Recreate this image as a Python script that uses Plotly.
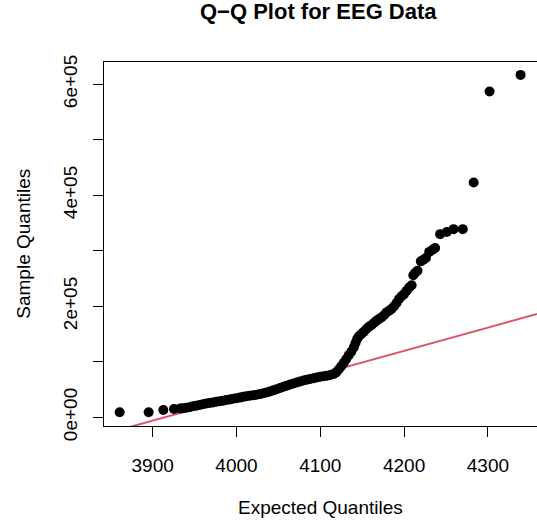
import plotly.graph_objects as go

# Expected (theoretical) quantiles and sample quantiles
expected_q = [
    3860.6, 3895.2, 3912.7, 3925.4, 3933,
    3936, 3940, 3944, 3948, 3952, 3956, 3960, 3964, 3968, 3972, 3976, 3980,
    3984, 3988, 3992, 3996, 4000, 4004, 4008, 4012, 4016, 4020, 4024, 4028,
    4032, 4036, 4040, 4044, 4048, 4052, 4056, 4060, 4064, 4068, 4072, 4076,
    4080, 4084, 4088, 4092, 4096, 4100, 4104, 4108, 4112, 4116,
    4119, 4122, 4125, 4128, 4131, 4134, 4137, 4140, 4142, 4144, 4146, 4149,
    4152, 4155, 4158, 4161, 4164, 4167, 4170, 4173, 4176, 4179, 4182, 4185,
    4188, 4191, 4194, 4197, 4200, 4203, 4206, 4209, 4211, 4213, 4216, 4220,
    4223, 4226, 4230, 4234, 4237, 4243, 4251, 4259, 4270, 4283, 4302, 4339,
]
sample_q = [
    9000, 9000, 13000, 15000, 16000,
    16500, 17300, 18200, 19800, 21000, 22000, 23500, 24800, 25800, 26800, 27900, 29000,
    30000, 31000, 32200, 33300, 34500, 35500, 36800, 38000, 38800, 39600, 40600, 41800,
    43200, 44800, 46500, 48500, 50500, 52800, 55000, 57000, 59000, 61000, 62800, 64500,
    66200, 67800, 69200, 70500, 71800, 73000, 74000, 75000, 76200, 78000,
    81000, 86000, 92000, 98000, 105000, 112000, 118000, 126000, 134000, 141000, 146000, 150000,
    154000, 159000, 163000, 166000, 170000, 174000, 177000, 180000, 184000, 189000, 192000, 195000,
    200000, 206000, 213000, 218000, 222000, 228000, 234000, 238000, 256000, 260000, 264000, 281000,
    284000, 287000, 298000, 302000, 305000, 330000, 334000, 339000, 339000, 423000, 587000, 617000,
]

# Reference line (qqline): y = intercept + slope * x
line_intercept = -1639300
line_slope = 418.8

x_ticks = [3900, 4000, 4100, 4200, 4300]
y_ticks = [0, 100000, 200000, 300000, 400000, 500000, 600000]
y_tick_labels = ["0e+00", "", "2e+05", "", "4e+05", "", "6e+05"]

x_range = [3841.9, 4358.6]
y_range = [-15700, 640200]

FONT = "Liberation Sans, Arial, Helvetica, sans-serif"

W, H = 537, 520
ML, MR, MT, MB = 104, 0, 62, 94
PW, PH = W - ML - MR, H - MT - MB


def px_to_paper(px, py):
    """pixel position (from top-left) -> paper coordinates"""
    return (px - ML) / PW, ((H - py) - MB) / PH


fig = go.Figure()
line_y = [line_intercept + line_slope * xv for xv in x_range]
fig.add_trace(go.Scatter(
    x=x_range, y=line_y, mode="lines",
    line=dict(color="#DF536B", width=2), hoverinfo="skip", showlegend=False,
))
fig.add_trace(go.Scatter(
    x=expected_q, y=sample_q, mode="markers",
    marker=dict(color="black", size=10, line=dict(width=0)),
    showlegend=False,
))

axis_common = dict(
    showgrid=False, zeroline=False, showline=True, linecolor="black",
    linewidth=1, mirror=True, ticks="outside", ticklen=10, tickwidth=1,
    tickcolor="black", tickfont=dict(family=FONT, size=19, color="black"),
    automargin=False,
)

tx, ty = px_to_paper(318, 11)
xx, xy = px_to_paper(320.5, 507)
yx, yy = px_to_paper(24, 243.7)

fig.update_layout(
    width=W, height=H,
    margin=dict(l=ML, r=MR, t=MT, b=MB),
    paper_bgcolor="white", plot_bgcolor="white",
    xaxis=dict(range=x_range, tickvals=x_ticks, ticktext=[str(v) for v in x_ticks],
               ticklabelstandoff=12, **axis_common),
    yaxis=dict(range=y_range, tickvals=y_ticks, ticktext=y_tick_labels,
               tickangle=-90, ticklabelstandoff=8, **axis_common),
    annotations=[
        dict(text="<b>Q\u2212Q Plot for EEG Data</b>", x=tx, y=ty,
             xref="paper", yref="paper", showarrow=False,
             font=dict(family=FONT, size=22, color="black"),
             xanchor="center", yanchor="middle"),
        dict(text="Expected Quantiles", x=xx, y=xy,
             xref="paper", yref="paper", showarrow=False,
             font=dict(family=FONT, size=19, color="black"),
             xanchor="center", yanchor="middle"),
        dict(text="Sample Quantiles", x=yx, y=yy, textangle=-90,
             xref="paper", yref="paper", showarrow=False,
             font=dict(family=FONT, size=19, color="black"),
             xanchor="center", yanchor="middle"),
    ],
)

fig.write_html(
    "out.html",
    config={"displayModeBar": False},
    post_script="document.body.style.margin='0';document.body.style.overflow='hidden';",
)
